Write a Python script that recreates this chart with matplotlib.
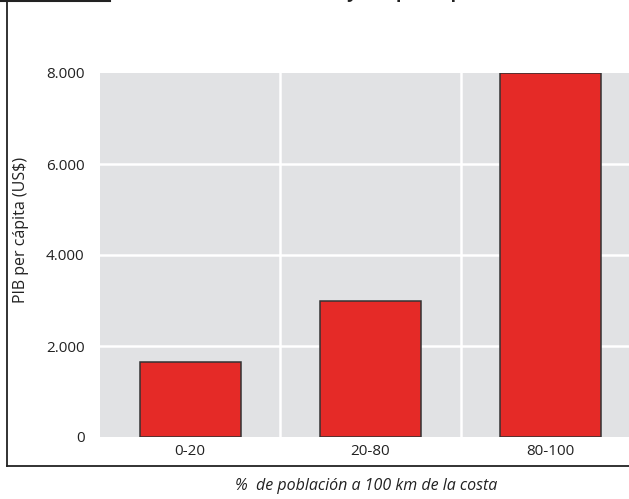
import matplotlib
matplotlib.use("Agg")
import matplotlib.pyplot as plt
from matplotlib.lines import Line2D

categories = ["0-20", "20-80", "80-100"]
values = [1650, 3000, 8000]
yticks = [0, 2000, 4000, 6000, 8000]
ytick_labels = ["0", "2.000", "4.000", "6.000", "8.000"]
title = "Acceso al mar y PIB per cápita"
ylabel = "PIB per cápita (US$)"
xlabel = "%  de población a 100 km de la costa"

W, H = 629, 499
fig = plt.figure(figsize=(W / 100, H / 100), dpi=100)
plt.rcParams['font.family'] = ['Open Sans', 'DejaVu Sans']

def fx(px):
    return px / W

def fy(py):
    return 1 - py / H

FS = 11
LFS = 11.5
TXT = "#222222"

# axes: left 100 px, right 641 px (beyond canvas), top 73, bottom 437
ax = fig.add_axes([fx(100), fy(437), fx(641) - fx(100), (437 - 73) / H])
ax.set_facecolor("#e1e2e4")
x = list(range(len(categories)))
ax.bar(x, values, width=0.56, color="#e52a27", edgecolor="#333333", linewidth=1.1, zorder=3)
ax.set_xlim(-0.5, 2.5)
ax.set_ylim(0, 8000)
ax.set_yticks(yticks)
ax.set_yticklabels(ytick_labels, fontsize=FS, color=TXT)
ax.set_xticks(x)
ax.set_xticklabels(categories, fontsize=FS, color=TXT)
ax.tick_params(length=0, pad=11, axis="y")
ax.tick_params(length=0, pad=5, axis="x")
for s in ax.spines.values():
    s.set_visible(False)
for yv in yticks[1:-1]:
    ax.axhline(yv, color="white", linewidth=1.8, zorder=1)
for xv in [0.5, 1.5]:
    ax.axvline(xv, color="white", linewidth=1.8, zorder=1)

fig.text(fx(21), fy(230), ylabel, ha="center", va="center", rotation=90,
         fontsize=LFS, color=TXT)

fig.text(fx(366), fy(486), xlabel, ha="center", va="center", fontsize=LFS,
         style="italic", color=TXT)

# title cut off by the top edge: only descenders remain visible
fig.text(fx(352), fy(-2), title, ha="center", va="baseline", fontsize=13,
         fontweight="bold", color=TXT)

# frame lines
fig.add_artist(Line2D([fx(7), fx(7)], [fy(0), fy(466)], color=TXT, linewidth=1.3))
fig.add_artist(Line2D([fx(7), fx(W + 5)], [fy(466), fy(466)], color=TXT, linewidth=1.3))
fig.add_artist(Line2D([fx(0), fx(110)], [fy(0.5), fy(0.5)], color=TXT, linewidth=1.5))

fig.savefig("out.png", dpi=100)
